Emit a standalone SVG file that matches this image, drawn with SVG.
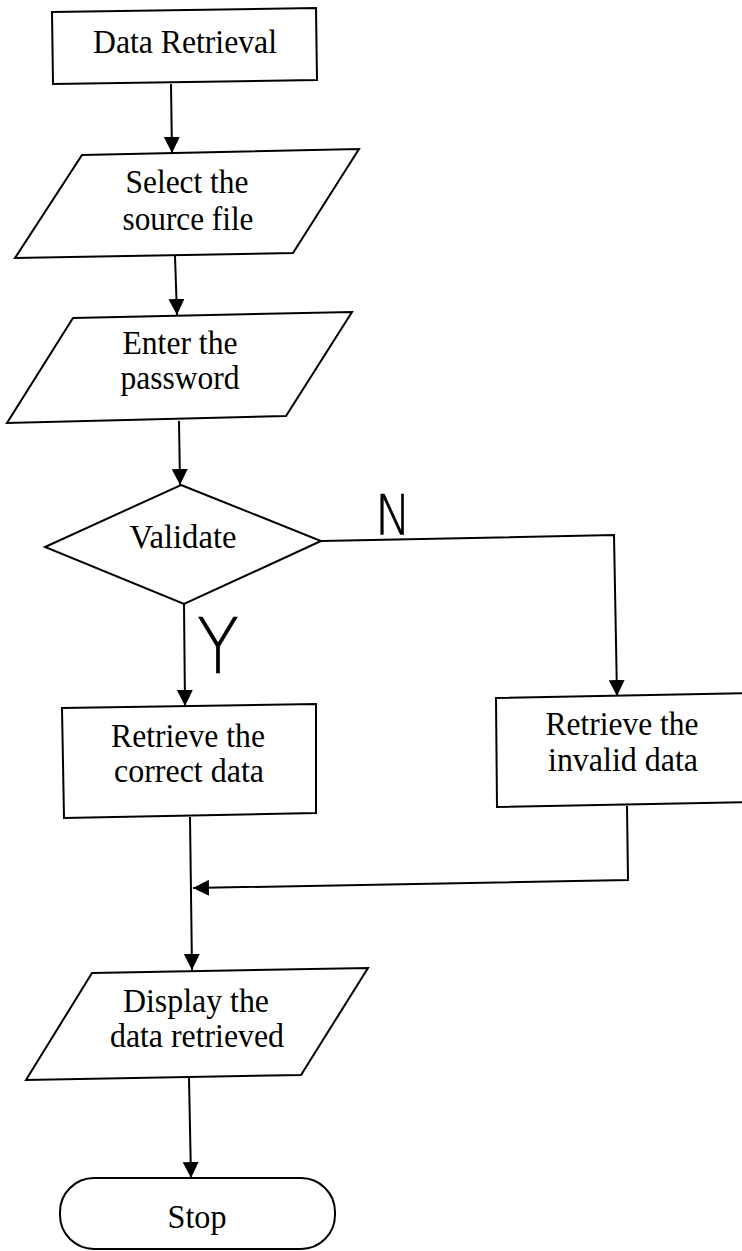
<svg xmlns="http://www.w3.org/2000/svg" width="742" height="1251" viewBox="0 0 742 1251">
  <style>
    .shape { fill: #ffffff; stroke: #000000; stroke-width: 2; stroke-linejoin: miter; }
    .edge { fill: none; stroke: #000000; stroke-width: 2; }
    .lbl { font-family: "Liberation Serif", "Times New Roman", serif; font-size: 33px; fill: #000000; text-anchor: middle; }
    .yn { font-family: "DejaVu Sans", "Liberation Sans", sans-serif; font-weight: 200; fill: #000000; stroke: #000000; stroke-width: 0.6; }
  </style>
  <defs>
    <marker id="arrow" markerUnits="userSpaceOnUse" markerWidth="18" markerHeight="18" refX="16" refY="8" orient="auto">
      <path d="M0,0 L16,8 L0,16 Z" fill="#000000"/>
    </marker>
  </defs>
  <rect width="742" height="1251" fill="#ffffff"/>

  <!-- connectors -->
  <g id="connectors">
    <path class="edge" d="M171,84 L172,153" marker-end="url(#arrow)"/>
    <path class="edge" d="M175,256 L177,315" marker-end="url(#arrow)"/>
    <path class="edge" d="M179,421 L180,485" marker-end="url(#arrow)"/>
    <path class="edge" d="M321,541 L614,535 L617,696" marker-end="url(#arrow)"/>
    <path class="edge" d="M184,604 L185,706" marker-end="url(#arrow)"/>
    <path class="edge" d="M627,806 L628,880 L193,888" marker-end="url(#arrow)"/>
    <path class="edge" d="M190,817 L192,970" marker-end="url(#arrow)"/>
    <path class="edge" d="M189,1078 L191,1178" marker-end="url(#arrow)"/>
    <text class="yn" x="375" y="534" font-size="56" textLength="36" lengthAdjust="spacingAndGlyphs">N</text>
    <text class="yn" x="197" y="673" font-size="77" textLength="42" lengthAdjust="spacingAndGlyphs">Y</text>
  </g>

  <!-- nodes -->
  <g id="node-data-retrieval">
    <polygon class="shape" points="52,12 316,8 317,80 53,84"/>
    <text class="lbl" x="185" y="53" textLength="184" lengthAdjust="spacingAndGlyphs">Data Retrieval</text>
  </g>

  <g id="node-select-source">
    <polygon class="shape" points="82,155 359,149 293,253 15,258"/>
    <text class="lbl" x="187" y="193" textLength="123" lengthAdjust="spacingAndGlyphs">Select the</text>
    <text class="lbl" x="188" y="230" textLength="131" lengthAdjust="spacingAndGlyphs">source file</text>
  </g>

  <g id="node-enter-password">
    <polygon class="shape" points="73,318 352,312 286,416 7,423"/>
    <text class="lbl" x="180" y="354" textLength="115" lengthAdjust="spacingAndGlyphs">Enter the</text>
    <text class="lbl" x="180" y="389" textLength="119" lengthAdjust="spacingAndGlyphs">password</text>
  </g>

  <g id="node-validate">
    <polygon class="shape" points="181,485 321,541 184,604 45,547"/>
    <text class="lbl" x="183" y="548" textLength="107" lengthAdjust="spacingAndGlyphs">Validate</text>
  </g>

  <g id="node-correct-data">
    <polygon class="shape" points="62,708 316,704 316,813 64,818"/>
    <text class="lbl" x="188" y="747" textLength="154" lengthAdjust="spacingAndGlyphs">Retrieve the</text>
    <text class="lbl" x="189" y="782" textLength="150" lengthAdjust="spacingAndGlyphs">correct data</text>
  </g>

  <g id="node-invalid-data">
    <polygon class="shape" points="496,698 760,693 760,802 497,807"/>
    <text class="lbl" x="622" y="735" textLength="153" lengthAdjust="spacingAndGlyphs">Retrieve the</text>
    <text class="lbl" x="623" y="771" textLength="150" lengthAdjust="spacingAndGlyphs">invalid data</text>
  </g>

  <g id="node-display">
    <polygon class="shape" points="92,973 368,968 301,1075 26,1080"/>
    <text class="lbl" x="196" y="1012" textLength="146" lengthAdjust="spacingAndGlyphs">Display the</text>
    <text class="lbl" x="197" y="1047" textLength="174" lengthAdjust="spacingAndGlyphs">data retrieved</text>
  </g>

  <g id="node-stop">
    <rect class="shape" x="60" y="1178" width="275" height="71" rx="34" ry="34"/>
    <text class="lbl" x="197" y="1228" textLength="59" lengthAdjust="spacingAndGlyphs">Stop</text>
  </g>
</svg>
